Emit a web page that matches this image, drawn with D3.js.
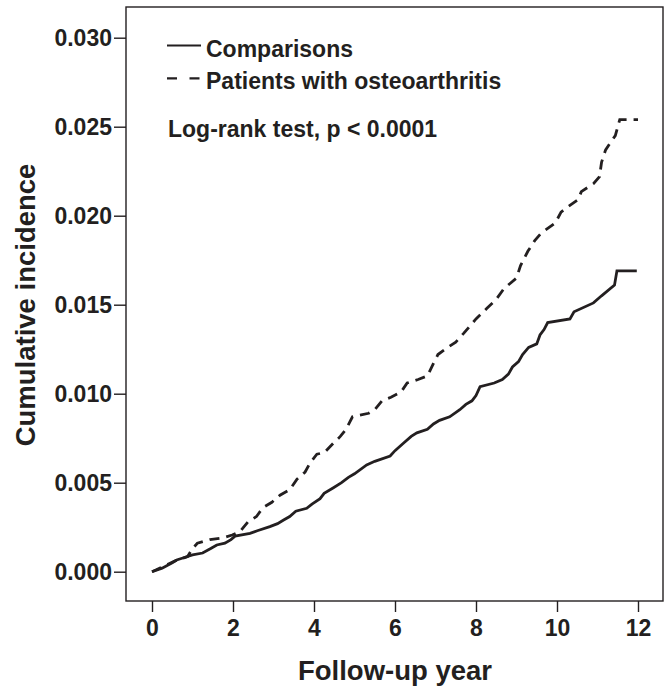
<!doctype html>
<html lang="en">
  <head>
    <meta charset="utf-8">
    <title>Cumulative incidence</title>
    <style>
      body { margin: 0; background: #fff; }
      text { font-family: "Liberation Sans", Arial, sans-serif; font-weight: bold; fill: #231f20; }
    </style>
  </head>
  <body>
    <script src="https://cdn.jsdelivr.net/npm/d3@7"></script>
    <script>

// follow-up time (years) and cumulative incidence
var compTime = [0, 0.25, 0.5, 0.61, 0.8, 1.0, 1.25, 1.45, 1.6, 1.8, 1.95, 2.05, 2.42, 2.6, 2.91, 3.1, 3.25, 3.4, 3.55, 3.82,
                3.95, 4.15, 4.25, 4.47, 4.68, 4.85, 5.0, 5.3, 5.5, 5.88, 6.0, 6.2, 6.4, 6.54, 6.8, 6.95, 7.1, 7.35, 7.6, 7.75,
                7.9, 8.0, 8.1, 8.45, 8.65, 8.8, 8.9, 9.05, 9.15, 9.3, 9.5, 9.58, 9.68, 9.77, 10.32, 10.42, 10.9, 11.1, 11.42, 11.48, 11.97];
var compValue = [0, 0.0002, 0.0005, 0.00066, 0.0008, 0.00094, 0.00105, 0.0013, 0.0015, 0.0016, 0.0018, 0.002, 0.00215, 0.0023, 0.00253, 0.0027, 0.0029, 0.0031, 0.0034, 0.00356,
                 0.0038, 0.0041, 0.0044, 0.0047, 0.005, 0.0053, 0.0055, 0.006, 0.0062, 0.0065, 0.0068, 0.0072, 0.0076, 0.0078, 0.008, 0.0083, 0.0085, 0.0087, 0.0091, 0.0094,
                 0.0096, 0.0099, 0.0104, 0.0106, 0.0108, 0.0111, 0.0115, 0.0118, 0.0122, 0.0126, 0.0128, 0.0133, 0.0136, 0.014, 0.0142, 0.0146, 0.0151, 0.0155, 0.0161, 0.0169, 0.0169];

var oaTime = [0, 0.24, 0.56, 0.88, 1.0, 1.12, 1.43, 1.75, 1.98, 2.17, 2.37, 2.58, 2.74, 2.96, 3.16, 3.4, 3.58, 3.78, 3.9, 4.07,
              4.26, 4.47, 4.65, 4.79, 4.95, 5.35, 5.5, 5.68, 5.9, 6.15, 6.3, 6.57, 6.8, 6.95, 7.06, 7.3, 7.5, 7.7, 7.85, 8.0,
              8.27, 8.5, 8.69, 9.0, 9.1, 9.28, 9.45, 9.6, 9.96, 10.1, 10.27, 10.52, 10.6, 10.9, 11.05, 11.1, 11.2, 11.44, 11.55, 12.0];
var oaValue = [0, 0.00025, 0.0006, 0.00085, 0.0013, 0.0016, 0.0018, 0.0019, 0.00206, 0.00225, 0.0028, 0.0031, 0.0036, 0.0039, 0.0043, 0.0046, 0.0052, 0.0056, 0.0061, 0.0066,
               0.0067, 0.0072, 0.0076, 0.008, 0.0087, 0.0089, 0.0091, 0.0096, 0.0098, 0.0101, 0.0106, 0.0108, 0.011, 0.0117, 0.0122, 0.0126, 0.0129, 0.0134, 0.0138, 0.0142,
               0.0148, 0.0153, 0.0159, 0.0165, 0.0172, 0.018, 0.0186, 0.019, 0.0196, 0.0202, 0.0205, 0.0209, 0.02135, 0.0218, 0.0222, 0.023, 0.0237, 0.0245, 0.0254, 0.0254];

var xTicks = [0, 2, 4, 6, 8, 10, 12];
var yTicks = [0, 0.005, 0.01, 0.015, 0.02, 0.025, 0.03];

var seriesNames = ["Comparisons", "Patients with osteoarthritis"];

var ink = "#231f20";
var frame = {left: 126, top: 7, right: 663, bottom: 601};

var svg = d3.select("body")
    .append("svg")
    .attr("width", 669)
    .attr("height", 688);

var x = d3.scaleLinear().domain([0, 12]).range([152, 638]);
var y = d3.scaleLinear().domain([0, 0.03]).range([571.7, 37.7]);

// plot frame
svg.append("rect")
   .attr("x", frame.left)
   .attr("y", frame.top)
   .attr("width", frame.right - frame.left)
   .attr("height", frame.bottom - frame.top)
   .attr("fill", "none")
   .attr("stroke", ink)
   .attr("stroke-width", 1.4);

var yAxis = svg.append("g")
   .attr("transform", "translate(" + frame.left + ",0)")
   .call(d3.axisLeft(y).tickValues(yTicks).tickFormat(d3.format(".3f")).tickSize(12).tickPadding(2));

var xAxis = svg.append("g")
   .attr("transform", "translate(0," + frame.bottom + ")")
   .call(d3.axisBottom(x).tickValues(xTicks).tickFormat(d3.format("d")).tickSize(11).tickPadding(8));

[yAxis, xAxis].forEach(function(g){
  g.select(".domain").remove();
  g.selectAll(".tick line").attr("stroke", ink).attr("stroke-width", 1.4);
  g.selectAll(".tick text")
   .attr("fill", ink)
   .style("font-size", "23px")
   .style("font-family", "'Liberation Sans', Arial, sans-serif")
   .style("font-weight", "bold");
});

var line = d3.line()
    .x(function(d){ return x(d[0]); })
    .y(function(d){ return y(d[1]); });

var compData = compTime.map(function(t, i){ return [t, compValue[i]]; });
var oaData = oaTime.map(function(t, i){ return [t, oaValue[i]]; });

svg.append("path")
   .datum(compData)
   .attr("d", line)
   .attr("fill", "none")
   .attr("stroke", ink)
   .attr("stroke-width", 2.8);

svg.append("path")
   .datum(oaData)
   .attr("d", line)
   .attr("fill", "none")
   .attr("stroke", ink)
   .attr("stroke-width", 2.8)
   .attr("stroke-dasharray", "10,7");

// legend
var legend = svg.append("g");
legend.append("line")
   .attr("x1", 167).attr("x2", 201).attr("y1", 45.5).attr("y2", 45.5)
   .attr("stroke", ink).attr("stroke-width", 2.2);
legend.append("text")
   .attr("x", 206).attr("y", 56.5)
   .style("font-size", "23px")
   .text(seriesNames[0]);

legend.append("line")
   .attr("x1", 167).attr("x2", 201).attr("y1", 78.3).attr("y2", 78.3)
   .attr("stroke", ink).attr("stroke-width", 2.2)
   .attr("stroke-dasharray", "10,12.5");
legend.append("text")
   .attr("x", 206).attr("y", 89)
   .style("font-size", "23px")
   .text(seriesNames[1]);

svg.append("text")
   .attr("x", 168).attr("y", 136.7)
   .style("font-size", "23px")
   .text("Log-rank test, p < 0.0001");

// axis titles
svg.append("text")
   .attr("transform", "translate(25,305) rotate(-90)")
   .attr("text-anchor", "middle")
   .attr("dy", "0.36em")
   .style("font-size", "27.5px")
   .text("Cumulative incidence");

svg.append("text")
   .attr("x", 395)
   .attr("y", 680)
   .attr("text-anchor", "middle")
   .style("font-size", "27.5px")
   .text("Follow-up year");

    </script>
  </body>
</html>
